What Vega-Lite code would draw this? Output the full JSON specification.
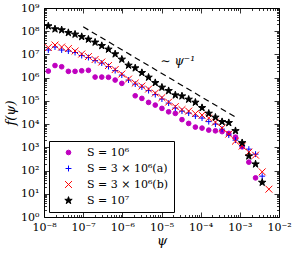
{
  "$schema": "https://vega.github.io/schema/vega-lite/v6.json",
  "width": 235,
  "height": 209,
  "autosize": {"type": "none"},
  "padding": {"left": 44, "top": 8, "right": 15, "bottom": 37},
  "background": "white",
  "config": {
    "view": {"stroke": "black", "strokeWidth": 1},
    "font": "DejaVu Serif",
    "axis": {"grid": false, "domain": false, "tickColor": "black", "tickWidth": 0.8, "labelColor": "black", "labelFont": "DejaVu Serif", "labelFontSize": 11, "labelFlush": false, "labelOverlap": false, "titleFont": "DejaVu Serif", "titleFontWeight": "normal", "titleFontStyle": "italic", "titleColor": "black", "titleFontSize": 13},
    "legend": {"orient": "bottom-left", "offset": 5, "strokeColor": "black", "fillColor": "white", "padding": 6, "cornerRadius": 0, "labelFont": "DejaVu Serif", "labelFontSize": 11, "labelColor": "black", "rowPadding": 4, "symbolOffset": 8, "labelOffset": 13, "symbolStrokeWidth": 1, "title": null}
  },
  "layer": [
    {
      "data": {"values": [
        {"series": "S = 10⁶", "psi": 1.288e-8, "f": 1.92e6},
        {"series": "S = 10⁶", "psi": 1.909e-8, "f": 3.33e6},
        {"series": "S = 10⁶", "psi": 2.825e-8, "f": 2.95e6},
        {"series": "S = 10⁶", "psi": 4.188e-8, "f": 1.87e6},
        {"series": "S = 10⁶", "psi": 6.209e-8, "f": 1.87e6},
        {"series": "S = 10⁶", "psi": 9.183e-8, "f": 1.98e6},
        {"series": "S = 10⁶", "psi": 1.361e-7, "f": 2.07e6},
        {"series": "S = 10⁶", "psi": 2.018e-7, "f": 1.06e6},
        {"series": "S = 10⁶", "psi": 2.985e-7, "f": 1.06e6},
        {"series": "S = 10⁶", "psi": 4.426e-7, "f": 1.04e6},
        {"series": "S = 10⁶", "psi": 6.561e-7, "f": 7.89e5},
        {"series": "S = 10⁶", "psi": 9.705e-7, "f": 5.68e5},
        {"series": "S = 10⁶", "psi": 2.133e-6, "f": 1.66e5},
        {"series": "S = 10⁶", "psi": 3.155e-6, "f": 1.28e5},
        {"series": "S = 10⁶", "psi": 4.677e-6, "f": 8.61e4},
        {"series": "S = 10⁶", "psi": 6.934e-6, "f": 6.59e4},
        {"series": "S = 10⁶", "psi": 1.026e-5, "f": 4.75e4},
        {"series": "S = 10⁶", "psi": 1.521e-5, "f": 3.39e4},
        {"series": "S = 10⁶", "psi": 2.254e-5, "f": 2.89e4},
        {"series": "S = 10⁶", "psi": 3.334e-5, "f": 1.56e4},
        {"series": "S = 10⁶", "psi": 4.943e-5, "f": 1.07e4},
        {"series": "S = 10⁶", "psi": 7.328e-5, "f": 7430},
        {"series": "S = 10⁶", "psi": 1.084e-4, "f": 6730},
        {"series": "S = 10⁶", "psi": 1.607e-4, "f": 5510},
        {"series": "S = 10⁶", "psi": 2.382e-4, "f": 5140},
        {"series": "S = 10⁶", "psi": 3.524e-4, "f": 4750},
        {"series": "S = 10⁶", "psi": 5.224e-4, "f": 3970},
        {"series": "S = 10⁶", "psi": 7.745e-4, "f": 2750},
        {"series": "S = 10⁶", "psi": 1.146e-3, "f": 1050},
        {"series": "S = 10⁶", "psi": 1.698e-3, "f": 230},
        {"series": "S = 10⁶", "psi": 2.518e-3, "f": 48.4},

        {"series": "S = 3 × 10⁶(a)", "psi": 1.288e-8, "f": 1.55e7},
        {"series": "S = 3 × 10⁶(a)", "psi": 1.909e-8, "f": 2.08e7},
        {"series": "S = 3 × 10⁶(a)", "psi": 2.825e-8, "f": 1.55e7},
        {"series": "S = 3 × 10⁶(a)", "psi": 4.188e-8, "f": 1.40e7},
        {"series": "S = 3 × 10⁶(a)", "psi": 6.209e-8, "f": 1.21e7},
        {"series": "S = 3 × 10⁶(a)", "psi": 9.183e-8, "f": 8.97e6},
        {"series": "S = 3 × 10⁶(a)", "psi": 1.361e-7, "f": 7.35e6},
        {"series": "S = 3 × 10⁶(a)", "psi": 2.018e-7, "f": 5.46e6},
        {"series": "S = 3 × 10⁶(a)", "psi": 2.985e-7, "f": 4.26e6},
        {"series": "S = 3 × 10⁶(a)", "psi": 4.426e-7, "f": 3.01e6},
        {"series": "S = 3 × 10⁶(a)", "psi": 6.561e-7, "f": 2.02e6},
        {"series": "S = 3 × 10⁶(a)", "psi": 9.705e-7, "f": 1.29e6},
        {"series": "S = 3 × 10⁶(a)", "psi": 1.439e-6, "f": 7.89e5},
        {"series": "S = 3 × 10⁶(a)", "psi": 2.133e-6, "f": 5.30e5},
        {"series": "S = 3 × 10⁶(a)", "psi": 3.155e-6, "f": 3.94e5},
        {"series": "S = 3 × 10⁶(a)", "psi": 4.677e-6, "f": 2.78e5},
        {"series": "S = 3 × 10⁶(a)", "psi": 6.934e-6, "f": 1.87e5},
        {"series": "S = 3 × 10⁶(a)", "psi": 1.026e-5, "f": 1.20e5},
        {"series": "S = 3 × 10⁶(a)", "psi": 1.521e-5, "f": 8.04e4},
        {"series": "S = 3 × 10⁶(a)", "psi": 2.254e-5, "f": 4.90e4},
        {"series": "S = 3 × 10⁶(a)", "psi": 3.334e-5, "f": 3.63e4},
        {"series": "S = 3 × 10⁶(a)", "psi": 4.943e-5, "f": 2.98e4},
        {"series": "S = 3 × 10⁶(a)", "psi": 7.328e-5, "f": 2.21e4},
        {"series": "S = 3 × 10⁶(a)", "psi": 1.084e-4, "f": 1.82e4},
        {"series": "S = 3 × 10⁶(a)", "psi": 1.607e-4, "f": 1.28e4},
        {"series": "S = 3 × 10⁶(a)", "psi": 2.382e-4, "f": 1.00e4},
        {"series": "S = 3 × 10⁶(a)", "psi": 3.524e-4, "f": 6080},
        {"series": "S = 3 × 10⁶(a)", "psi": 5.224e-4, "f": 3360},
        {"series": "S = 3 × 10⁶(a)", "psi": 7.745e-4, "f": 2040},
        {"series": "S = 3 × 10⁶(a)", "psi": 1.146e-3, "f": 1180},
        {"series": "S = 3 × 10⁶(a)", "psi": 1.698e-3, "f": 836},
        {"series": "S = 3 × 10⁶(a)", "psi": 2.518e-3, "f": 509},
        {"series": "S = 3 × 10⁶(a)", "psi": 3.724e-3, "f": 57.4},

        {"series": "S = 3 × 10⁶(b)", "psi": 1.288e-8, "f": 1.98e7},
        {"series": "S = 3 × 10⁶(b)", "psi": 1.909e-8, "f": 2.54e7},
        {"series": "S = 3 × 10⁶(b)", "psi": 2.825e-8, "f": 2.08e7},
        {"series": "S = 3 × 10⁶(b)", "psi": 4.188e-8, "f": 1.79e7},
        {"series": "S = 3 × 10⁶(b)", "psi": 6.209e-8, "f": 1.40e7},
        {"series": "S = 3 × 10⁶(b)", "psi": 9.183e-8, "f": 1.04e7},
        {"series": "S = 3 × 10⁶(b)", "psi": 1.361e-7, "f": 8.11e6},
        {"series": "S = 3 × 10⁶(b)", "psi": 2.018e-7, "f": 6.03e6},
        {"series": "S = 3 × 10⁶(b)", "psi": 2.985e-7, "f": 4.70e6},
        {"series": "S = 3 × 10⁶(b)", "psi": 4.426e-7, "f": 3.33e6},
        {"series": "S = 3 × 10⁶(b)", "psi": 6.561e-7, "f": 2.23e6},
        {"series": "S = 3 × 10⁶(b)", "psi": 9.705e-7, "f": 1.43e6},
        {"series": "S = 3 × 10⁶(b)", "psi": 1.439e-6, "f": 8.71e5},
        {"series": "S = 3 × 10⁶(b)", "psi": 2.133e-6, "f": 5.85e5},
        {"series": "S = 3 × 10⁶(b)", "psi": 3.155e-6, "f": 4.35e5},
        {"series": "S = 3 × 10⁶(b)", "psi": 4.677e-6, "f": 3.23e5},
        {"series": "S = 3 × 10⁶(b)", "psi": 6.934e-6, "f": 2.17e5},
        {"series": "S = 3 × 10⁶(b)", "psi": 1.026e-5, "f": 1.39e5},
        {"series": "S = 3 × 10⁶(b)", "psi": 1.521e-5, "f": 8.87e4},
        {"series": "S = 3 × 10⁶(b)", "psi": 2.254e-5, "f": 5.68e4},
        {"series": "S = 3 × 10⁶(b)", "psi": 3.334e-5, "f": 4.22e4},
        {"series": "S = 3 × 10⁶(b)", "psi": 4.943e-5, "f": 3.63e4},
        {"series": "S = 3 × 10⁶(b)", "psi": 7.328e-5, "f": 2.84e4},
        {"series": "S = 3 × 10⁶(b)", "psi": 1.084e-4, "f": 2.44e4},
        {"series": "S = 3 × 10⁶(b)", "psi": 1.607e-4, "f": 1.82e4},
        {"series": "S = 3 × 10⁶(b)", "psi": 2.382e-4, "f": 1.22e4},
        {"series": "S = 3 × 10⁶(b)", "psi": 3.524e-4, "f": 6730},
        {"series": "S = 3 × 10⁶(b)", "psi": 5.224e-4, "f": 3710},
        {"series": "S = 3 × 10⁶(b)", "psi": 7.745e-4, "f": 1850},
        {"series": "S = 3 × 10⁶(b)", "psi": 1.146e-3, "f": 1130},
        {"series": "S = 3 × 10⁶(b)", "psi": 1.698e-3, "f": 621},
        {"series": "S = 3 × 10⁶(b)", "psi": 2.518e-3, "f": 461},
        {"series": "S = 3 × 10⁶(b)", "psi": 3.724e-3, "f": 87.9},
        {"series": "S = 3 × 10⁶(b)", "psi": 5.521e-3, "f": 15.8},

        {"series": "S = 10⁷", "psi": 1.288e-8, "f": 1.67e8},
        {"series": "S = 10⁷", "psi": 1.909e-8, "f": 1.24e8},
        {"series": "S = 10⁷", "psi": 2.825e-8, "f": 1.13e8},
        {"series": "S = 10⁷", "psi": 4.188e-8, "f": 8.61e7},
        {"series": "S = 10⁷", "psi": 6.209e-8, "f": 7.35e7},
        {"series": "S = 10⁷", "psi": 9.183e-8, "f": 5.79e7},
        {"series": "S = 10⁷", "psi": 1.361e-7, "f": 4.48e7},
        {"series": "S = 10⁷", "psi": 2.018e-7, "f": 3.33e7},
        {"series": "S = 10⁷", "psi": 2.985e-7, "f": 2.37e7},
        {"series": "S = 10⁷", "psi": 4.426e-7, "f": 1.66e7},
        {"series": "S = 10⁷", "psi": 6.561e-7, "f": 1.04e7},
        {"series": "S = 10⁷", "psi": 9.705e-7, "f": 6.15e6},
        {"series": "S = 10⁷", "psi": 1.439e-6, "f": 3.39e6},
        {"series": "S = 10⁷", "psi": 2.133e-6, "f": 2.59e6},
        {"series": "S = 10⁷", "psi": 3.155e-6, "f": 1.63e6},
        {"series": "S = 10⁷", "psi": 4.677e-6, "f": 1.03e6},
        {"series": "S = 10⁷", "psi": 6.934e-6, "f": 6.03e5},
        {"series": "S = 10⁷", "psi": 1.026e-5, "f": 3.82e5},
        {"series": "S = 10⁷", "psi": 1.521e-5, "f": 2.72e5},
        {"series": "S = 10⁷", "psi": 2.254e-5, "f": 1.78e5},
        {"series": "S = 10⁷", "psi": 3.334e-5, "f": 1.61e5},
        {"series": "S = 10⁷", "psi": 4.943e-5, "f": 1.16e5},
        {"series": "S = 10⁷", "psi": 7.328e-5, "f": 8.61e4},
        {"series": "S = 10⁷", "psi": 1.084e-4, "f": 5.05e4},
        {"series": "S = 10⁷", "psi": 1.607e-4, "f": 2.89e4},
        {"series": "S = 10⁷", "psi": 2.382e-4, "f": 1.95e4},
        {"series": "S = 10⁷", "psi": 3.524e-4, "f": 1.26e4},
        {"series": "S = 10⁷", "psi": 5.224e-4, "f": 1.14e4},
        {"series": "S = 10⁷", "psi": 7.745e-4, "f": 5140},
        {"series": "S = 10⁷", "psi": 1.146e-3, "f": 1560},
        {"series": "S = 10⁷", "psi": 1.698e-3, "f": 418},
        {"series": "S = 10⁷", "psi": 2.518e-3, "f": 189},
        {"series": "S = 10⁷", "psi": 3.724e-3, "f": 30.7}
      ]},
      "mark": {"type": "point", "strokeWidth": 1, "opacity": 1},
      "encoding": {
        "x": {"field": "psi", "type": "quantitative", "scale": {"type": "log", "domain": [1e-8, 1e-2], "nice": false},
          "axis": {"orient": "bottom", "values": [1e-8, 1e-7, 1e-6, 1e-5, 1e-4, 1e-3, 1e-2], "tickSize": -5, "labelPadding": 9, "title": "ψ", "titlePadding": 2,
            "labelExpr": "'10' + replace(replace(replace(replace(replace(replace(replace(replace(replace(replace(replace('' + round(log(datum.value)/LN10), '-', '⁻'), '0', '⁰'), '1', '¹'), '2', '²'), '3', '³'), '4', '⁴'), '5', '⁵'), '6', '⁶'), '7', '⁷'), '8', '⁸'), '9', '⁹')"}},
        "y": {"field": "f", "type": "quantitative", "scale": {"type": "log", "domain": [1, 1e9], "nice": false},
          "axis": {"orient": "left", "values": [1, 10, 100, 1e3, 1e4, 1e5, 1e6, 1e7, 1e8, 1e9], "tickSize": -5, "labelPadding": 10, "title": "f(ψ)", "titlePadding": 3,
            "labelExpr": "'10' + replace(replace(replace(replace(replace(replace(replace(replace(replace(replace(replace('' + round(log(datum.value)/LN10), '-', '⁻'), '0', '⁰'), '1', '¹'), '2', '²'), '3', '³'), '4', '⁴'), '5', '⁵'), '6', '⁶'), '7', '⁷'), '8', '⁸'), '9', '⁹')"}},
        "shape": {"field": "series", "type": "nominal", "legend": {"labelFont": "DejaVu Serif", "labelFontSize": 11, "encode": {"legend": {"update": {"strokeWidth": {"value": 1.5}}}}}, "scale": {"domain": ["S = 10⁶", "S = 3 × 10⁶(a)", "S = 3 × 10⁶(b)", "S = 10⁷"], "range": ["circle", "M-1,0L1,0M0,-1L0,1", "M-1,-1L1,1M-1,1L1,-1", "M0,-1L0.2245,-0.309L0.9511,-0.309L0.3633,0.118L0.5878,0.809L0,0.382L-0.5878,0.809L-0.3633,0.118L-0.9511,-0.309L-0.2245,-0.309Z"]}},
        "fill": {"field": "series", "type": "nominal", "scale": {"domain": ["S = 10⁶", "S = 3 × 10⁶(a)", "S = 3 × 10⁶(b)", "S = 10⁷"], "range": ["#bf00bf", "transparent", "transparent", "#000000"]}},
        "stroke": {"field": "series", "type": "nominal", "scale": {"domain": ["S = 10⁶", "S = 3 × 10⁶(a)", "S = 3 × 10⁶(b)", "S = 10⁷"], "range": ["#bf00bf", "#0000ff", "#ff0000", "#000000"]}},
        "size": {"field": "series", "type": "nominal", "scale": {"domain": ["S = 10⁶", "S = 3 × 10⁶(a)", "S = 3 × 10⁶(b)", "S = 10⁷"], "range": [22, 60, 60, 85]}}
      }
    },
    {
      "data": {"values": [{"psi": 1e-7, "f": 1.55e8}, {"psi": 8.3e-4, "f": 18700}]},
      "mark": {"type": "line", "color": "black", "strokeWidth": 1.2, "strokeDash": [6, 4]},
      "encoding": {
        "x": {"field": "psi", "type": "quantitative", "scale": {"type": "log", "domain": [1e-8, 1e-2], "nice": false},
          "axis": {"orient": "bottom", "labels": false, "title": null, "tickSize": -2.5,
            "values": [2e-8,3e-8,4e-8,5e-8,6e-8,7e-8,8e-8,9e-8,2e-7,3e-7,4e-7,5e-7,6e-7,7e-7,8e-7,9e-7,2e-6,3e-6,4e-6,5e-6,6e-6,7e-6,8e-6,9e-6,2e-5,3e-5,4e-5,5e-5,6e-5,7e-5,8e-5,9e-5,2e-4,3e-4,4e-4,5e-4,6e-4,7e-4,8e-4,9e-4,2e-3,3e-3,4e-3,5e-3,6e-3,7e-3,8e-3,9e-3]}},
        "y": {"field": "f", "type": "quantitative", "scale": {"type": "log", "domain": [1, 1e9], "nice": false},
          "axis": {"orient": "left", "labels": false, "title": null, "tickSize": -2.5,
            "values": [2,3,4,5,6,7,8,9,20,30,40,50,60,70,80,90,200,300,400,500,600,700,800,900,2e3,3e3,4e3,5e3,6e3,7e3,8e3,9e3,2e4,3e4,4e4,5e4,6e4,7e4,8e4,9e4,2e5,3e5,4e5,5e5,6e5,7e5,8e5,9e5,2e6,3e6,4e6,5e6,6e6,7e6,8e6,9e6,2e7,3e7,4e7,5e7,6e7,7e7,8e7,9e7,2e8,3e8,4e8,5e8,6e8,7e8,8e8,9e8]}}
      }
    },
    {
      "data": {"values": [{"psi": 2.6e-5, "f": 5.2e6, "label": "∼ ψ⁻¹"}]},
      "mark": {"type": "text", "font": "DejaVu Serif", "fontSize": 12, "fontStyle": "italic", "color": "black", "align": "center", "baseline": "middle"},
      "encoding": {
        "x": {"field": "psi", "type": "quantitative", "scale": {"type": "log", "domain": [1e-8, 1e-2], "nice": false},
          "axis": {"orient": "top", "labels": false, "title": null, "tickSize": -5, "values": [1e-8, 1e-7, 1e-6, 1e-5, 1e-4, 1e-3, 1e-2]}},
        "y": {"field": "f", "type": "quantitative", "scale": {"type": "log", "domain": [1, 1e9], "nice": false},
          "axis": {"orient": "right", "labels": false, "title": null, "tickSize": -5, "values": [1, 10, 100, 1e3, 1e4, 1e5, 1e6, 1e7, 1e8, 1e9]}},
        "text": {"field": "label"}
      }
    },
    {
      "data": {"values": [{"psi": 1e-7, "f": 1.55e8}, {"psi": 8.3e-4, "f": 18700}]},
      "mark": {"type": "point", "opacity": 0},
      "encoding": {
        "x": {"field": "psi", "type": "quantitative", "scale": {"type": "log", "domain": [1e-8, 1e-2], "nice": false},
          "axis": {"orient": "top", "labels": false, "title": null, "tickSize": -2.5,
            "values": [2e-8,3e-8,4e-8,5e-8,6e-8,7e-8,8e-8,9e-8,2e-7,3e-7,4e-7,5e-7,6e-7,7e-7,8e-7,9e-7,2e-6,3e-6,4e-6,5e-6,6e-6,7e-6,8e-6,9e-6,2e-5,3e-5,4e-5,5e-5,6e-5,7e-5,8e-5,9e-5,2e-4,3e-4,4e-4,5e-4,6e-4,7e-4,8e-4,9e-4,2e-3,3e-3,4e-3,5e-3,6e-3,7e-3,8e-3,9e-3]}},
        "y": {"field": "f", "type": "quantitative", "scale": {"type": "log", "domain": [1, 1e9], "nice": false},
          "axis": {"orient": "right", "labels": false, "title": null, "tickSize": -2.5,
            "values": [2,3,4,5,6,7,8,9,20,30,40,50,60,70,80,90,200,300,400,500,600,700,800,900,2e3,3e3,4e3,5e3,6e3,7e3,8e3,9e3,2e4,3e4,4e4,5e4,6e4,7e4,8e4,9e4,2e5,3e5,4e5,5e5,6e5,7e5,8e5,9e5,2e6,3e6,4e6,5e6,6e6,7e6,8e6,9e6,2e7,3e7,4e7,5e7,6e7,7e7,8e7,9e7,2e8,3e8,4e8,5e8,6e8,7e8,8e8,9e8]}}
      }
    }
  ],
  "resolve": {"axis": {"x": "independent", "y": "independent"}}
}
